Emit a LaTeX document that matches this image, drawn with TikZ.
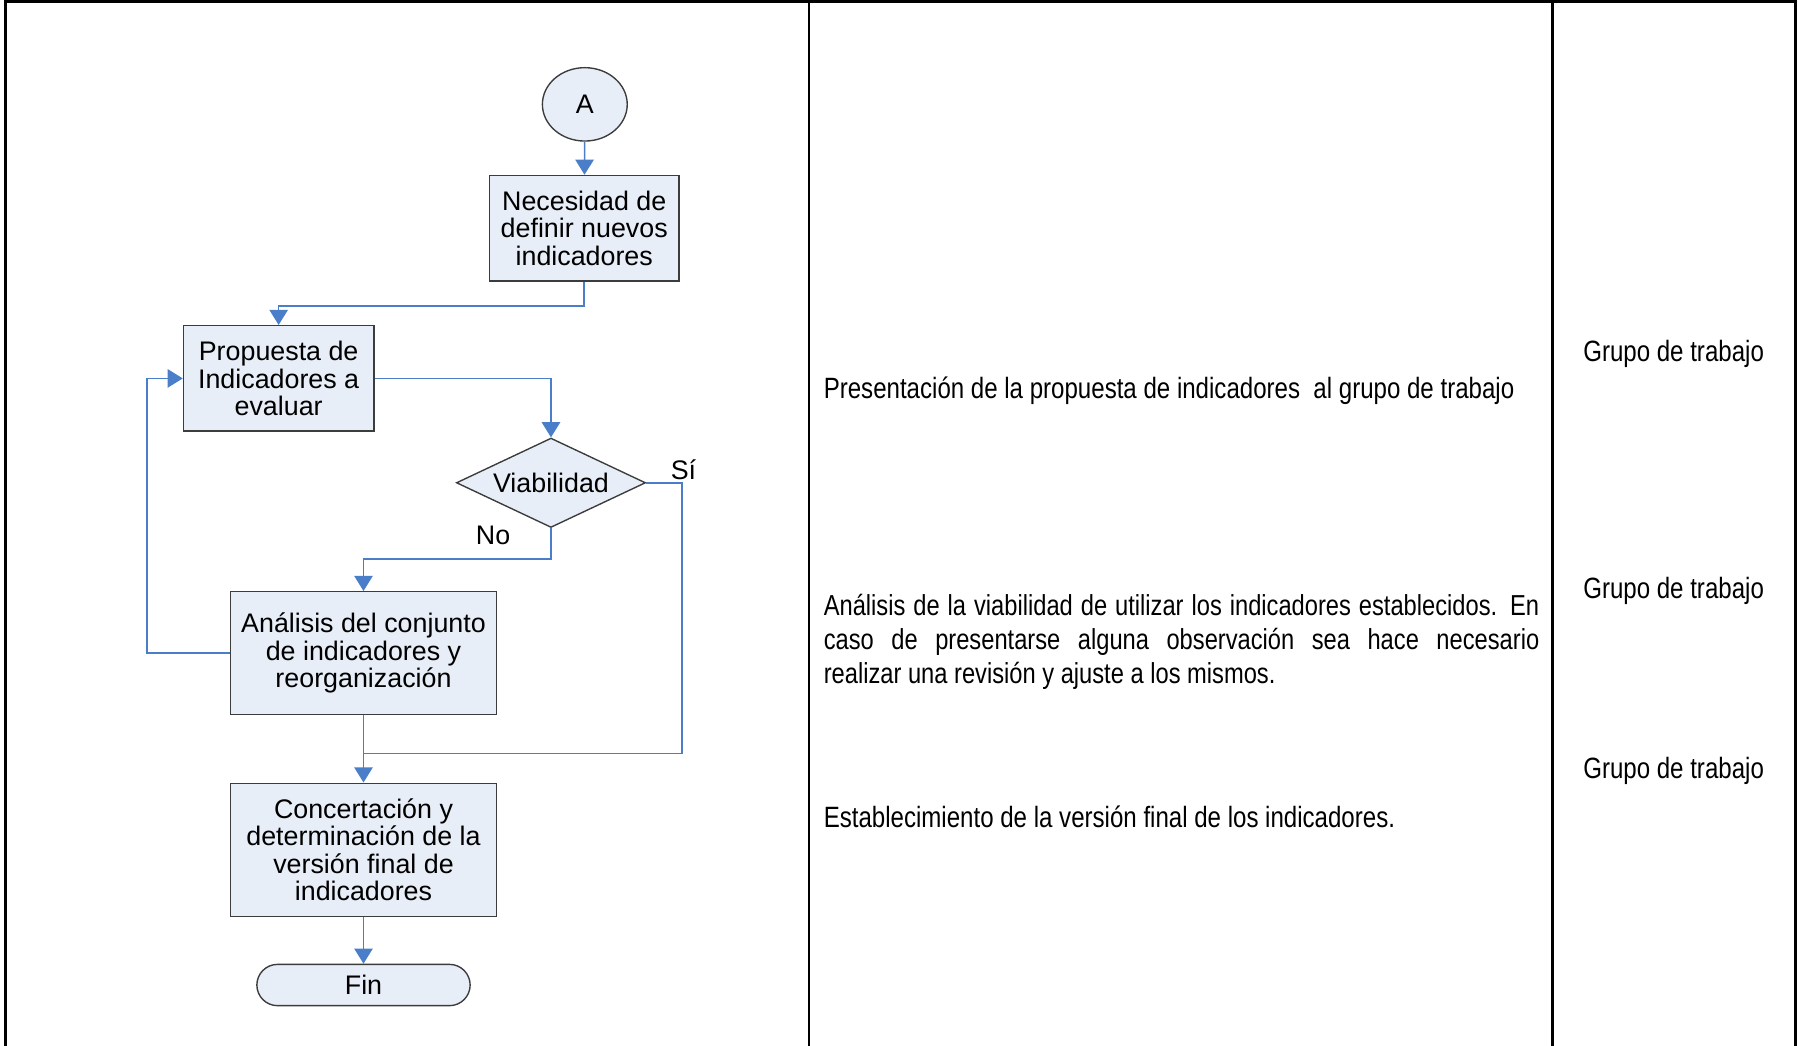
\documentclass[tikz,border=0pt]{standalone}
\usepackage{fontspec}
\setmainfont{Liberation Sans}
\newfontfamily\narrowfont[FakeStretch=0.82]{Liberation Sans}
\usetikzlibrary{arrows.meta,shapes.geometric,shapes.misc}
\definecolor{fillblue}{RGB}{232,238,247}
\definecolor{lineblue}{RGB}{74,126,200}
\definecolor{boxgray}{RGB}{60,60,60}
\hyphenpenalty=10000
\exhyphenpenalty=10000
\begin{document}
\begin{tikzpicture}[x=0.5pt,y=-0.5pt,
  flow/.style={font=\fontsize{11.7}{12}\selectfont},
  shapebase/.style={draw=boxgray, line width=0.6pt, fill=fillblue, flow, inner sep=0pt},
  procbox/.style={shapebase, align=center},
  conn/.style={draw=lineblue, line width=0.7pt},
  arr/.style={conn, -{Triangle[width=8pt,length=6.6pt]}},
  desc/.style={font=\narrowfont\fontsize{12.8}{14.75}\selectfont, inner sep=0pt},
  framelines/.style={line width=1.3pt, draw=black}
]
\useasboundingbox (0,0) rectangle (1568,912);
% frame
\draw[framelines] (4.4,912) -- (4.4,1.7) -- (1565.4,1.7) -- (1565.4,912);
\draw[framelines] (705.5,1.7) -- (705.5,912);
\draw[framelines] (1354.3,1.7) -- (1354.3,912);
% flowchart nodes
\node[shapebase, ellipse, minimum width=37pt, minimum height=32pt] (A) at (510,91) {A};
\node[procbox, minimum width=82.5pt, minimum height=46pt] (n1) at (509.5,199) {Necesidad de\\definir nuevos\\indicadores};
\node[procbox, minimum width=83pt, minimum height=46pt] (n2) at (243,330) {Propuesta de\\Indicadores a\\evaluar};
\node[shapebase, diamond, aspect=2.115, minimum width=82.5pt, minimum height=39pt] (d) at (480.5,421) {Viabilidad};
\node[procbox, minimum width=116pt, minimum height=53.5pt] (n3) at (317,569.5) {Análisis del conjunto\\de indicadores y\\reorganización};
\node[procbox, minimum width=116pt, minimum height=58pt] (n4) at (317,741) {Concertación y\\determinación de la\\versión final de\\indicadores};
\node[shapebase, rounded rectangle, minimum width=93pt, minimum height=18pt] (fin) at (317,859) {Fin};
\node[flow] (si) at (596,410) {Sí};
\node[flow] (no) at (430,467) {No};
\coordinate (sijoin) at (595,657);
\coordinate (merge) at (317,657);
% connectors
\draw[arr] (A) -- (n1);
\draw[arr] (n1.south) -- ++(0,21) -| (n2.north);
\draw[arr] (n2.east) -| (d.north);
\draw[arr] (d.south) -- ++(0,27) -| (n3.north);
\draw[arr] (n3.west) -- ++(-72,0) |- (n2.west);
\draw[arr] (n3.south) -- (n4.north);
\draw[conn] (d.east) -| (sijoin) -- (merge);
\draw[arr] (n4) -- (fin);
% descriptions
\node[desc, anchor=west] (t1) at (718,341) {Presentación de la propuesta de indicadores\ \ al grupo de trabajo};
\node[desc, font=\narrowfont\fontsize{12.6}{14.75}\selectfont, anchor=west, text width=312pt, align=justify] (t2) at (718,560) {Análisis de la viabilidad de utilizar los indicadores establecidos. En\linebreak caso de presentarse alguna observación sea hace necesario\linebreak realizar una revisión y ajuste a los mismos.};
\node[desc, anchor=west] (t3) at (718,712) {Establecimiento de la versión final de los indicadores.};
\node[desc] (g1) at (1459.5,309) {Grupo de trabajo};
\node[desc] (g2) at (1459.5,515) {Grupo de trabajo};
\node[desc] (g3) at (1459.5,672) {Grupo de trabajo};
\end{tikzpicture}
\end{document}
